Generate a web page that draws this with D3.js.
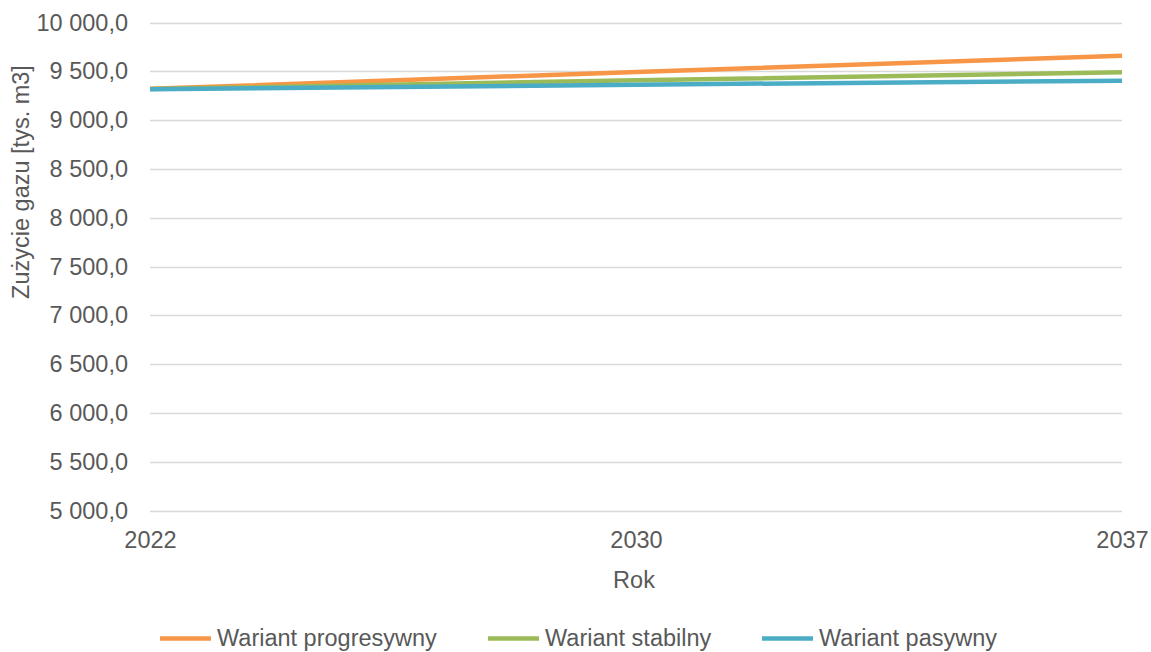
<!DOCTYPE html>
<html>
<head>
<meta charset="utf-8">
<script src="https://cdn.jsdelivr.net/npm/d3@7"></script>
<style>
  html, body { margin: 0; padding: 0; background: #fff; }
  svg { display: block; }
  text { font-family: "Liberation Sans", Arial, sans-serif; fill: #595959; }
</style>
</head>
<body>
<svg id="chart" width="1151" height="652"></svg>
<script>
// Gas consumption forecast by scenario
const years = ["2022", "2030", "2037"];
const seriesNames = ["Wariant progresywny", "Wariant stabilny", "Wariant pasywny"];
const progresywny = [9320, 9493, 9660];
const stabilny = [9318, 9408, 9490];
const pasywny = [9315, 9363, 9404];
const yTicks = [5000, 5500, 6000, 6500, 7000, 7500, 8000, 8500, 9000, 9500, 10000];
const colors = ["#F79646", "#9BBB59", "#4BACC6"];

const series = [progresywny, stabilny, pasywny];

const svg = d3.select("#chart");
const plotLeft = 150, plotRight = 1122, plotTop = 22.5, plotBottom = 510.5;
const fontSize = "23.5px";

const x = d3.scalePoint().domain(years).range([plotLeft, plotRight]);
const y = d3.scaleLinear().domain([5000, 10000]).range([plotBottom, plotTop]);

const fmt = v => d3.format(",.1f")(v).replace(",", " ").replace(".", ",");

// horizontal gridlines
svg.append("g")
  .selectAll("line")
  .data(yTicks)
  .join("line")
  .attr("x1", plotLeft).attr("x2", plotRight)
  .attr("y1", d => Math.round(y(d)) + 0.5).attr("y2", d => Math.round(y(d)) + 0.5)
  .attr("stroke", "#D9D9D9").attr("stroke-width", 1.3);

// y axis labels
const yAxis = svg.append("g")
  .attr("transform", `translate(${plotLeft},0)`)
  .call(d3.axisLeft(y).tickValues(yTicks).tickFormat(fmt).tickSize(0).tickPadding(22));
yAxis.select(".domain").remove();
yAxis.selectAll("text")
  .attr("font-size", fontSize)
  .attr("fill", "#595959");

// x axis labels
const xAxis = svg.append("g")
  .attr("transform", `translate(0,${plotBottom})`)
  .call(d3.axisBottom(x).tickSize(0).tickPadding(21));
xAxis.select(".domain").remove();
xAxis.selectAll("text")
  .attr("font-size", fontSize)
  .attr("fill", "#595959");

// axis titles
svg.append("text")
  .attr("x", 634).attr("y", 588)
  .attr("text-anchor", "middle")
  .attr("font-size", fontSize)
  .text("Rok");

svg.append("text")
  .attr("transform", "translate(29,182) rotate(-90)")
  .attr("text-anchor", "middle")
  .attr("font-size", fontSize)
  .text("Zużycie gazu [tys. m3]");

// series lines
const line = d3.line()
  .x((d, i) => x(years[i]))
  .y(d => y(d));

svg.append("g")
  .selectAll("path")
  .data(series)
  .join("path")
  .attr("d", d => line(d))
  .attr("fill", "none")
  .attr("stroke", (d, i) => colors[i])
  .attr("stroke-width", 4.5)
  .attr("stroke-linejoin", "round");

// legend
const legendX = [160, 488, 762];
const legend = svg.append("g")
  .selectAll("g")
  .data(seriesNames)
  .join("g")
  .attr("transform", (d, i) => `translate(${legendX[i]},638.5)`);
legend.append("line")
  .attr("x1", 0).attr("x2", 51)
  .attr("y1", 0).attr("y2", 0)
  .attr("stroke", (d, i) => colors[i])
  .attr("stroke-width", 4.5);
legend.append("text")
  .attr("x", 57).attr("y", 7.5)
  .attr("font-size", fontSize)
  .text(d => d);
</script>
</body>
</html>
